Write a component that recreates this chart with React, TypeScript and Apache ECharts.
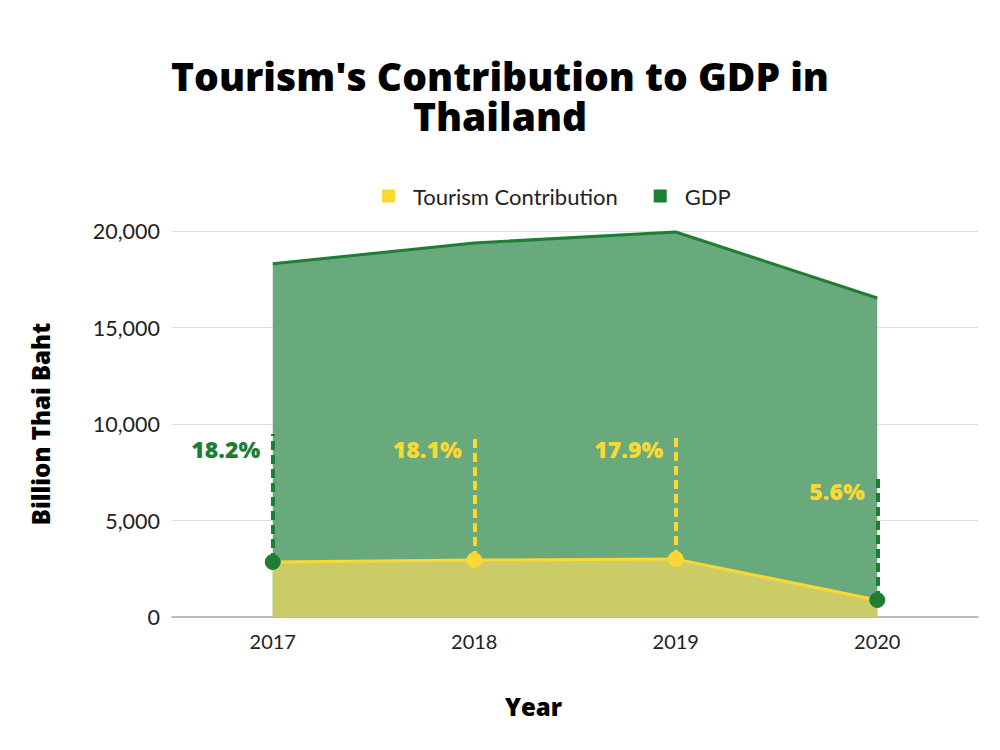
import React, { useEffect, useRef } from "react";
import * as echarts from "echarts";

const years = ["2017", "2018", "2019", "2020"];
const gdp = [18300, 19380, 19950, 16530];
const tourism = [2850, 2950, 3000, 880];
const shareLabels = ["18.2%", "18.1%", "17.9%", "5.6%"];
const shareLineTops = [9480, 9480, 9480, 7300];
const lineColors = ["#1e7e34", "#fdd835", "#fdd835", "#1e7e34"];
const labelColors = ["#1e7e34", "#fdd835", "#fdd835", "#fdd835"];
const dotColors = ["#1e7e34", "#fdd835", "#fdd835", "#1e7e34"];
const yTicks = { min: 0, max: 20000, interval: 5000 };

const GREEN = "#1e7e34";
const YELLOW = "#fdd835";

export default function App() {
  const ref = useRef<HTMLDivElement>(null);
  useEffect(() => {
    if (!ref.current) return;
    const chart = echarts.init(ref.current, null, { renderer: "svg" });
    chart.setOption({
      animation: false,
      backgroundColor: "#ffffff",
      title: {
        text: "Tourism's Contribution to GDP in\nThailand",
        left: "center",
        top: 50,
        textStyle: {
          fontFamily: "Open Sans",
          fontWeight: 800,
          fontSize: 39,
          lineHeight: 40,
          color: "#000",
        },
      },
      legend: {
        left: 377,
        top: 180,
        itemWidth: 13,
        itemHeight: 13,
        itemGap: 36,
        icon: "rect",
        data: ["Tourism Contribution", "GDP"],
        textStyle: { fontFamily: "Lato", fontSize: 22, color: "#222", padding: [0, 0, 0, 13] },
      },
      grid: { left: 172, right: 22, top: 231, bottom: 133 },
      xAxis: {
        type: "category",
        data: years,
        boundaryGap: true,
        axisTick: { show: false },
        axisLine: { lineStyle: { color: "#aaa", width: 1.5 } },
        axisLabel: { fontFamily: "Lato", fontSize: 20, color: "#222", margin: 14 },
      },
      yAxis: {
        type: "value",
        min: yTicks.min,
        max: yTicks.max,
        interval: yTicks.interval,
        axisLine: { show: false },
        axisTick: { show: false },
        splitLine: { lineStyle: { color: "#ddd", width: 1.2 } },
        axisLabel: {
          fontFamily: "Lato",
          fontSize: 21.5,
          color: "#222",
          margin: 12,
          formatter: (v: number) => v.toLocaleString("en-US"),
        },
        name: "Billion Thai Baht",
        nameLocation: "middle",
        nameGap: 120,
        nameRotate: 90,
        nameTextStyle: { fontFamily: "Open Sans", fontWeight: 800, fontSize: 24, color: "#000" },
      },
      graphic: [
        {
          type: "text",
          left: 505,
          top: 694,
          style: { text: "Year", fontFamily: "Open Sans", fontWeight: 800, fontSize: 24, fill: "#000" },
        },
      ],
      series: [
        {
          name: "GDP",
          type: "line",
          data: gdp,
          showSymbol: false,
          z: 1,
          itemStyle: { color: GREEN },
          lineStyle: { color: GREEN, width: 3 },
          areaStyle: { color: "#68aa7b", opacity: 1 },
        },
        {
          name: "Tourism Contribution",
          type: "line",
          z: 3,
          data: tourism.map((v, i) => ({
            value: v,
            itemStyle: { color: dotColors[i], borderColor: dotColors[i] },
          })),
          symbol: "circle",
          symbolSize: 15,
          showSymbol: true,
          itemStyle: { color: YELLOW },
          lineStyle: { color: YELLOW, width: 3 },
          areaStyle: { color: "#cbcb68", opacity: 1 },
          markLine: {
            silent: true,
            symbol: "none",
            label: { show: false },
            z: 2,
            lineStyle: { width: 4, type: [9, 5] },
            data: years.map((y, i) => [
              {
                coord: [i, tourism[i]],
                lineStyle: { color: lineColors[i], width: 4, type: [9, 5] },
              },
              { coord: [i, shareLineTops[i]] },
            ]),
          },
        },
        {
          name: "labels",
          type: "scatter",
          z: 4,
          symbolSize: 1,
          itemStyle: { color: "rgba(0,0,0,0)" },
          data: shareLineTops.map((v, i) => ({
            value: [i, v],
            label: {
              show: true,
              position: "left",
              distance: 12,
              offset: [0, 15],
              formatter: shareLabels[i],
              color: labelColors[i],
              opacity: 1,
              textBorderWidth: 0,
              fontFamily: "Open Sans",
              fontWeight: 800,
              fontSize: 23,
            },
          })),
        },
      ],
    });
    return () => chart.dispose();
  }, []);
  return <div ref={ref} style={{ width: 1000, height: 750, marginLeft: -8, marginTop: -8 }} />;
}
